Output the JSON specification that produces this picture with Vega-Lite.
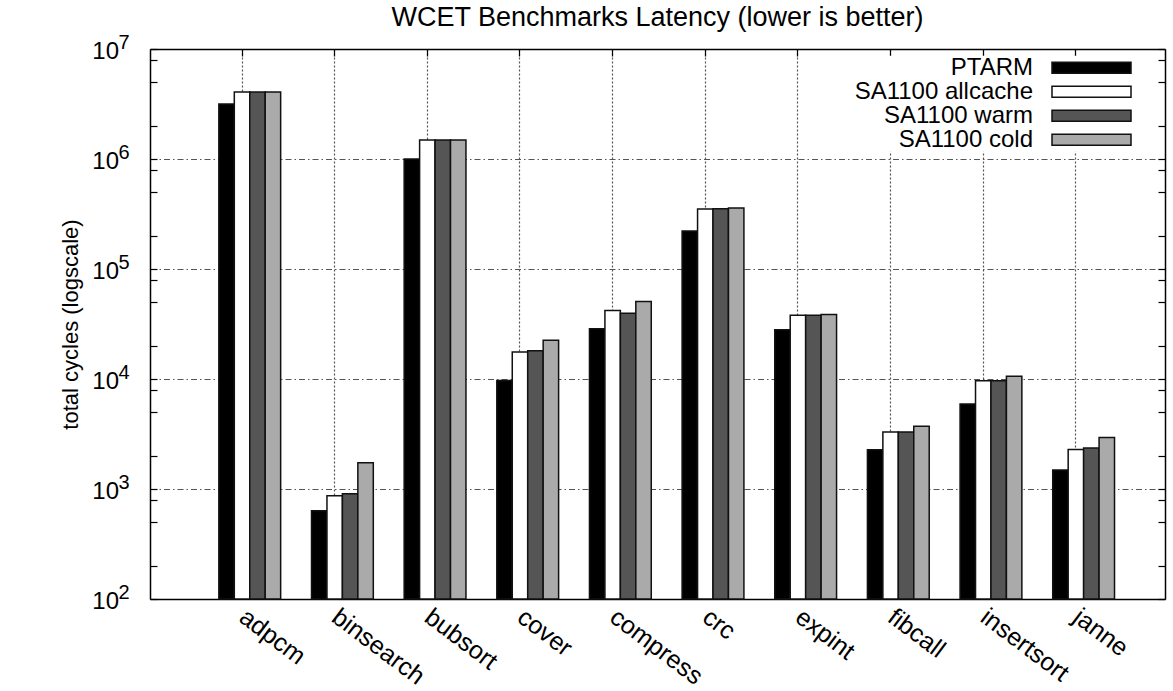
{
  "$schema": "https://vega.github.io/schema/vega-lite/v6.json",
  "width": 1015,
  "height": 550,
  "autosize": {"type": "none"},
  "padding": {"left": 150, "top": 49, "right": 8, "bottom": 92},
  "background": "white",
  "config": {
    "view": {"stroke": null},
    "font": "Liberation Sans"
  },
  "title": {
    "text": "WCET Benchmarks Latency (lower is better)",
    "fontSize": 27,
    "font": "Liberation Sans",
    "fontWeight": "normal",
    "color": "black",
    "anchor": "middle",
    "baseline": "alphabetic",
    "offset": 7,
    "dy": 28
  },
  "data": {
    "values": [
      {"bench": "adpcm", "config": "PTARM", "cycles": 3160000},
      {"bench": "adpcm", "config": "SA1100 allcache", "cycles": 4070000},
      {"bench": "adpcm", "config": "SA1100 warm", "cycles": 4070000},
      {"bench": "adpcm", "config": "SA1100 cold", "cycles": 4070000},
      {"bench": "binsearch", "config": "PTARM", "cycles": 635},
      {"bench": "binsearch", "config": "SA1100 allcache", "cycles": 869},
      {"bench": "binsearch", "config": "SA1100 warm", "cycles": 906},
      {"bench": "binsearch", "config": "SA1100 cold", "cycles": 1730},
      {"bench": "bubsort", "config": "PTARM", "cycles": 1000000},
      {"bench": "bubsort", "config": "SA1100 allcache", "cycles": 1490000},
      {"bench": "bubsort", "config": "SA1100 warm", "cycles": 1490000},
      {"bench": "bubsort", "config": "SA1100 cold", "cycles": 1490000},
      {"bench": "cover", "config": "PTARM", "cycles": 9700},
      {"bench": "cover", "config": "SA1100 allcache", "cycles": 17600},
      {"bench": "cover", "config": "SA1100 warm", "cycles": 18100},
      {"bench": "cover", "config": "SA1100 cold", "cycles": 22500},
      {"bench": "compress", "config": "PTARM", "cycles": 28700},
      {"bench": "compress", "config": "SA1100 allcache", "cycles": 42000},
      {"bench": "compress", "config": "SA1100 warm", "cycles": 39600},
      {"bench": "compress", "config": "SA1100 cold", "cycles": 50700},
      {"bench": "crc", "config": "PTARM", "cycles": 221000},
      {"bench": "crc", "config": "SA1100 allcache", "cycles": 351000},
      {"bench": "crc", "config": "SA1100 warm", "cycles": 353000},
      {"bench": "crc", "config": "SA1100 cold", "cycles": 358000},
      {"bench": "expint", "config": "PTARM", "cycles": 28000},
      {"bench": "expint", "config": "SA1100 allcache", "cycles": 38000},
      {"bench": "expint", "config": "SA1100 warm", "cycles": 38000},
      {"bench": "expint", "config": "SA1100 cold", "cycles": 38500},
      {"bench": "fibcall", "config": "PTARM", "cycles": 2270},
      {"bench": "fibcall", "config": "SA1100 allcache", "cycles": 3300},
      {"bench": "fibcall", "config": "SA1100 warm", "cycles": 3300},
      {"bench": "fibcall", "config": "SA1100 cold", "cycles": 3710},
      {"bench": "insertsort", "config": "PTARM", "cycles": 5930},
      {"bench": "insertsort", "config": "SA1100 allcache", "cycles": 9660},
      {"bench": "insertsort", "config": "SA1100 warm", "cycles": 9660},
      {"bench": "insertsort", "config": "SA1100 cold", "cycles": 10600},
      {"bench": "janne", "config": "PTARM", "cycles": 1490},
      {"bench": "janne", "config": "SA1100 allcache", "cycles": 2290},
      {"bench": "janne", "config": "SA1100 warm", "cycles": 2360},
      {"bench": "janne", "config": "SA1100 cold", "cycles": 2940}
    ]
  },
  "layer": [
    {
      "mark": {"type": "bar", "stroke": "#111111", "strokeWidth": 1.5},
      "encoding": {
        "x": {
          "field": "bench", "type": "nominal", "sort": null,
          "scale": {"paddingInner": 0.333, "paddingOuter": 0.644, "align": 0.577},
          "axis": {
            "orient": "bottom", "title": null, "bandPosition": 0.375,
            "labelAngle": 37, "labelAlign": "left", "labelBaseline": "top",
            "labelPadding": 12, "labelFontSize": 25, "labelFont": "Liberation Sans",
            "labelColor": "black", "labelLimit": 400, "labelOverlap": false,
            "ticks": true, "tickSize": -7, "tickColor": "black", "tickWidth": 1.2,
            "domain": true, "domainColor": "black", "domainWidth": 1.5,
            "grid": true, "gridColor": "#555555", "gridDash": [2, 2], "gridWidth": 1.2
          }
        },
        "y": {
          "field": "cycles", "type": "quantitative",
          "scale": {"type": "log", "domain": [100, 10000000], "nice": false},
          "axis": {
            "orient": "left",
            "values": [100, 200, 500, 800, 1000, 2000, 5000, 8000, 10000, 20000, 50000, 80000, 100000, 200000, 500000, 800000, 1000000, 2000000, 5000000, 8000000, 10000000],
            "labelExpr": "indexof([100,1000,10000,100000,1000000,10000000], datum.value) >= 0 ? '10' : ''",
            "labelFontSize": 24, "labelFont": "Liberation Sans", "labelColor": "black",
            "labelAlign": "right", "labelBaseline": "middle", "labelPadding": 38.5, "labelOffset": 2.5,
            "labelOverlap": false, "labelBound": false, "labelFlush": false,
            "ticks": true, "tickSize": -7, "tickColor": "black", "tickWidth": 1.2,
            "domain": true, "domainColor": "black", "domainWidth": 1.5,
            "grid": true, "gridColor": "#555555", "gridDash": [6, 3, 1.5, 3], "gridWidth": 1.2,
            "gridOpacity": {"condition": {"test": "indexof([100,1000,10000,100000,1000000,10000000], datum.value) >= 0", "value": 1}, "value": 0},
            "title": "total cycles (logscale)", "titleFontSize": 22, "titleFont": "Liberation Sans",
            "titleFontWeight": "normal", "titleColor": "black", "titleAngle": -90,
            "titleX": -73, "titleY": 275, "titleAlign": "center", "titleBaseline": "alphabetic"
          }
        },
        "y2": {"datum": 100},
        "xOffset": {
          "field": "config", "type": "nominal",
          "sort": ["PTARM", "SA1100 allcache", "SA1100 warm", "SA1100 cold"],
          "scale": {"paddingInner": 0, "paddingOuter": 0}
        },
        "color": {
          "field": "config", "type": "nominal",
          "sort": ["PTARM", "SA1100 allcache", "SA1100 warm", "SA1100 cold"],
          "scale": {
            "domain": ["PTARM", "SA1100 allcache", "SA1100 warm", "SA1100 cold"],
            "range": ["#000000", "#ffffff", "#555555", "#aaaaaa"]
          },
          "legend": {
            "orient": "none", "legendX": 680, "legendY": 6.7, "title": null,
            "direction": "vertical", "padding": 0, "fillColor": "white",
            "labelAlign": "right", "labelOffset": 179, "labelFontSize": 24,
            "labelFont": "Liberation Sans", "labelColor": "black", "labelLimit": 400,
            "symbolType": "M42,-1.1H57.8V1.1H42Z", "symbolSize": 100,
            "symbolStrokeColor": "#111111", "symbolStrokeWidth": 1.5, "symbolOpacity": 1,
            "rowPadding": -1.8
          }
        }
      }
    },
    {
      "mark": {"type": "bar", "opacity": 0},
      "encoding": {
        "x": {
          "field": "bench", "type": "nominal", "sort": null,
          "axis": {
            "orient": "top", "title": null, "bandPosition": 0.375, "labels": false,
            "ticks": true, "tickSize": -7, "tickColor": "black", "tickWidth": 1.2,
            "domain": true, "domainColor": "black", "domainWidth": 1.5, "grid": false
          }
        },
        "y": {
          "field": "cycles", "type": "quantitative",
          "axis": {
            "orient": "left", "title": null,
            "values": [100, 1000, 10000, 100000, 1000000, 10000000],
            "labelExpr": "format(round(log(datum.value)/LN10), 'd')",
            "labelFontSize": 20, "labelFont": "Liberation Sans", "labelColor": "black",
            "labelAlign": "left", "labelBaseline": "middle", "labelPadding": 32, "labelOffset": -7,
            "labelOverlap": false, "labelBound": false, "labelFlush": false,
            "ticks": false, "domain": false, "grid": false
          }
        },
        "y2": {"datum": 100}
      }
    },
    {
      "mark": {"type": "bar", "opacity": 0},
      "encoding": {
        "x": {"field": "bench", "type": "nominal", "sort": null, "axis": null},
        "y": {
          "field": "cycles", "type": "quantitative",
          "axis": {
            "orient": "right", "title": null,
            "values": [100, 200, 500, 800, 1000, 2000, 5000, 8000, 10000, 20000, 50000, 80000, 100000, 200000, 500000, 800000, 1000000, 2000000, 5000000, 8000000, 10000000],
            "labels": false, "ticks": true, "tickSize": -7, "tickColor": "black", "tickWidth": 1.2,
            "domain": true, "domainColor": "black", "domainWidth": 1.5, "grid": false
          }
        },
        "y2": {"datum": 100}
      }
    }
  ],
  "resolve": {"axis": {"x": "independent", "y": "independent"}}
}
